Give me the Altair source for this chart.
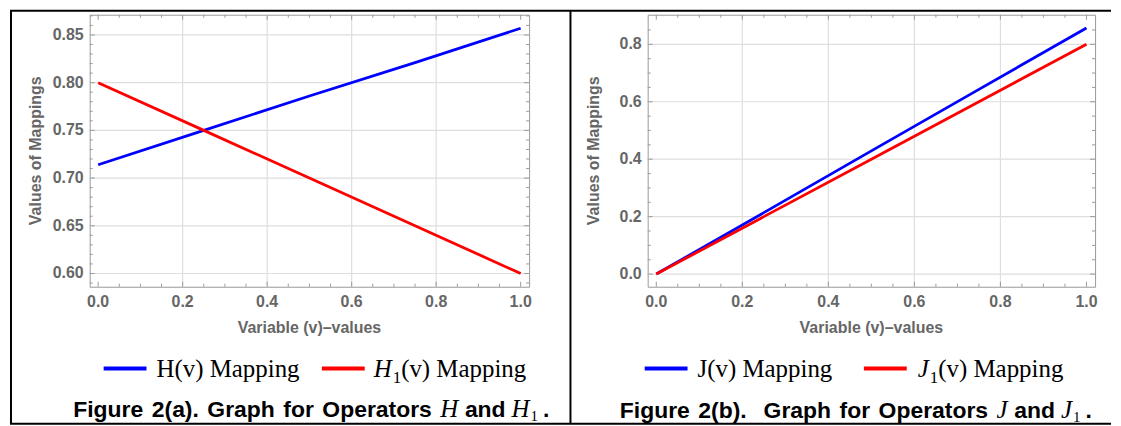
import altair as alt
import pandas as pd

# ---------------- data ----------------
v_vals = [0.0, 0.25, 0.5, 0.75, 1.0]
H_vals = [0.714, 0.750, 0.786, 0.821, 0.857]
H1_vals = [0.800, 0.750, 0.700, 0.650, 0.600]
J_vals = [0.000, 0.214, 0.429, 0.643, 0.857]
J1_vals = [0.000, 0.200, 0.400, 0.600, 0.800]

series_a = ["H", "H1"]
series_b = ["J", "J1"]

x_major = [0.0, 0.2, 0.4, 0.6, 0.8, 1.0]
x_labels = ["0.0", "0.2", "0.4", "0.6", "0.8", "1.0"]
x_grid = [0.2, 0.4, 0.6, 0.8]
x_minor = [0.05, 0.10, 0.15, 0.25, 0.30, 0.35, 0.45, 0.50, 0.55,
           0.65, 0.70, 0.75, 0.85, 0.90, 0.95]
ya_major = [0.60, 0.65, 0.70, 0.75, 0.80, 0.85]
ya_labels = ["0.60", "0.65", "0.70", "0.75", "0.80", "0.85"]
ya_minor = [0.59, 0.61, 0.62, 0.63, 0.64, 0.66, 0.67, 0.68, 0.69, 0.71,
            0.72, 0.73, 0.74, 0.76, 0.77, 0.78, 0.79, 0.81, 0.82, 0.83,
            0.84, 0.86, 0.87]
yb_major = [0.0, 0.2, 0.4, 0.6, 0.8]
yb_labels = ["0.0", "0.2", "0.4", "0.6", "0.8"]
yb_minor = [0.05, 0.10, 0.15, 0.25, 0.30, 0.35, 0.45, 0.50, 0.55,
            0.65, 0.70, 0.75, 0.85]

x_title = "Variable (v)\u2013values"
y_title = "Values of Mappings"

legend_a = ["H(v) Mapping", "H", "1", "(v) Mapping"]
legend_b = ["J(v) Mapping", "J", "1", "(v) Mapping"]
caption_a = ["Figure 2(a). Graph for Operators", "H", "and", "H", "1", "."]
caption_b = ["Figure 2(b).  Graph for Operators", "J", "and", "J", "1", "."]

# ---------------- style ----------------
SANS = "Liberation Sans"
SERIF = "Liberation Serif"
FRAME = "#9a9a9a"
GRID = "#dedede"
LABEL = "#666666"
BLUE = "#0000ff"
RED = "#ff0000"

W_SANS_B = {' ': 278, 'F': 611, 'i': 278, 'g': 611, 'u': 611, 'r': 389,
            'e': 556, '2': 556, '(': 333, ')': 333, 'a': 556, 'b': 611, '.': 278,
            'G': 778, 'p': 611, 'h': 611, 'f': 333, 'o': 611, 'O': 778, 't': 333,
            's': 556, 'n': 611, 'd': 611}
W_SERIF = {'(': 333, 'v': 500, ')': 333, ' ': 250, 'M': 889, 'a': 444, 'p': 500,
           'i': 278, 'n': 500, 'g': 500, 'H': 722, 'J': 389, '1': 500}
W_SERIF_I = {'H': 722, 'J': 444}


def tw(s, table, size):
    return sum(table.get(c, 556) for c in s) * size / 1000.0


def one():
    return pd.DataFrame({"k": [0]})


def text_mark(s, x, y, size, font, weight="normal", style="normal",
              color="black", align="left", baseline="alphabetic", angle=0):
    kw = dict(font=font, fontSize=size, fontWeight=weight, fontStyle=style,
              color=color, align=align, baseline=baseline)
    if angle:
        kw["angle"] = angle
    return alt.Chart(pd.DataFrame({"t": [s]})).mark_text(**kw).encode(
        x=alt.value(x), y=alt.value(y), text="t:N")


def hrule(x0, x1, y, color, width):
    return alt.Chart(one()).mark_rule(color=color, strokeWidth=width).encode(
        x=alt.value(x0), x2=alt.value(x1), y=alt.value(y))


def vrule(x, y0, y1, color, width):
    return alt.Chart(one()).mark_rule(color=color, strokeWidth=width).encode(
        x=alt.value(x), y=alt.value(y0), y2=alt.value(y1))


def rules_x(vals, xs, y0, y1, color, width=1.0):
    return alt.Chart(pd.DataFrame({"x": vals})).mark_rule(
        color=color, strokeWidth=width).encode(
        x=alt.X("x:Q", scale=xs, axis=None), y=alt.value(y0), y2=alt.value(y1))


def rules_y(vals, ys, x0, x1, color, width=1.0):
    return alt.Chart(pd.DataFrame({"y": vals})).mark_rule(
        color=color, strokeWidth=width).encode(
        y=alt.Y("y:Q", scale=ys, axis=None), x=alt.value(x0), x2=alt.value(x1))


def xlabels(vals, labels, xs, y):
    return alt.Chart(pd.DataFrame({"x": vals, "t": labels})).mark_text(
        font=SANS, fontSize=16, fontWeight="bold", color=LABEL, align="center",
        baseline="alphabetic").encode(
        x=alt.X("x:Q", scale=xs, axis=None), y=alt.value(y), text="t:N")


def ylabels(vals, labels, ys, x):
    return alt.Chart(pd.DataFrame({"y": vals, "t": labels})).mark_text(
        font=SANS, fontSize=16, fontWeight="bold", color=LABEL, align="right",
        baseline="middle").encode(
        y=alt.Y("y:Q", scale=ys, axis=None), x=alt.value(x), text="t:N")


def legend_layers(texts, x_sw1, x_txt1, x_sw2, x_txt2, y_sw, y_base):
    fs = 25
    layers = [
        hrule(x_sw1, x_sw1 + 43, y_sw, BLUE, 4),
        text_mark(texts[0], x_txt1, y_base, fs, SERIF),
        hrule(x_sw2, x_sw2 + 43, y_sw, RED, 4),
    ]
    x = x_txt2
    layers.append(text_mark(texts[1], x, y_base, fs, SERIF, style="italic"))
    x += tw(texts[1], W_SERIF_I, fs) + 1
    layers.append(text_mark(texts[2], x, y_base + 6, 17, SERIF))
    x += tw(texts[2], W_SERIF, 17)
    layers.append(text_mark(texts[3], x, y_base, fs, SERIF))
    return layers


def caption_layers(parts, x0, y_base):
    fs = 23
    fi = 25
    fsub = 15
    space = 8.5
    layers = []
    x = x0
    for w in parts[0].split(" "):
        if w:
            layers.append(text_mark(w, x, y_base, fs, SANS, weight="bold"))
            x += tw(w, W_SANS_B, fs)
        x += space
    layers.append(text_mark(parts[1], x, y_base, fi, SERIF, style="italic"))
    x += tw(parts[1], W_SERIF_I, fi) + 6.6
    layers.append(text_mark(parts[2], x, y_base, fs, SANS, weight="bold"))
    x += tw(parts[2], W_SANS_B, fs) + 6
    layers.append(text_mark(parts[3], x, y_base, fi, SERIF, style="italic"))
    x += tw(parts[3], W_SERIF_I, fi) + 1
    layers.append(text_mark(parts[4], x, y_base + 4, fsub, SERIF))
    x += tw(parts[4], W_SERIF, fsub) + 5
    layers.append(text_mark(parts[5], x, y_base, fs, SANS, weight="bold"))
    return layers


def panel(W, Ht, ydom, yA, yB, names, ymaj, ylab, ymin, legend, caption,
          leg_pos, cap_pos, extra=None):
    xs = alt.Scale(domain=[-0.02, 1.02], nice=False, zero=False)
    ys = alt.Scale(domain=ydom, nice=False, zero=False)
    df = pd.DataFrame({
        "v": v_vals + v_vals,
        "val": yA + yB,
        "s": [names[0]] * len(v_vals) + [names[1]] * len(v_vals),
    })
    lines = alt.Chart(df).mark_line(strokeWidth=2.8).encode(
        x=alt.X("v:Q", scale=xs, axis=None),
        y=alt.Y("val:Q", scale=ys, axis=None),
        color=alt.Color("s:N", scale=alt.Scale(domain=names, range=[BLUE, RED]),
                        legend=None),
    )
    layers = [
        rules_x(x_grid, xs, 0, Ht, GRID, 1.2),
        rules_y(ymaj, ys, 0, W, GRID, 1.2),
        lines,
        rules_x(x_major, xs, Ht, Ht - 5, FRAME),
        rules_x(x_minor, xs, Ht, Ht - 3, FRAME),
        rules_x(x_major, xs, 0, 5, FRAME),
        rules_x(x_minor, xs, 0, 3, FRAME),
        rules_y(ymaj, ys, 0, 5, FRAME),
        rules_y(ymin, ys, 0, 3, FRAME),
        rules_y(ymaj, ys, W, W - 5, FRAME),
        rules_y(ymin, ys, W, W - 3, FRAME),
        xlabels(x_major, x_labels, xs, Ht + 20),
        ylabels(ymaj, ylab, ys, -6),
        text_mark(x_title, W / 2, 319, 16, SANS, weight="bold", color=LABEL,
                  align="center"),
        text_mark(y_title, -54, Ht / 2, 16, SANS, weight="bold", color=LABEL,
                  align="center", baseline="middle", angle=270),
    ]
    layers += legend_layers(legend, *leg_pos)
    layers += caption_layers(caption, *cap_pos)
    if extra:
        layers += extra
    return alt.layer(*layers).properties(width=W, height=Ht)


borders = [
    vrule(-79, -4, 410.5, "black", 2),
    hrule(-80, 1025, -4, "black", 2),
    vrule(482.5, -4, 410.5, "black", 2),
    hrule(-80, 1025, 410.5, "black", 2),
]

left = panel(441, 273, [0.5861, 0.8712], H_vals, H1_vals, series_a, ya_major,
             ya_labels, ya_minor, legend_a, caption_a,
             (14, 67, 233, 285, 355, 364), (-16.5, 404), extra=borders)
right = panel(449, 273, [-0.0441, 0.9030], J_vals, J1_vals, series_b, yb_major,
              yb_labels, yb_minor, legend_b, caption_b,
              (-3, 50, 217, 271, 355, 364), (-28, 405))

chart = alt.hconcat(left, right, spacing=119, bounds="flush").configure_view(
    stroke=FRAME, strokeWidth=1).properties(padding=0)

chart.save("out.html", embed_options={"renderer": "svg", "actions": False})
